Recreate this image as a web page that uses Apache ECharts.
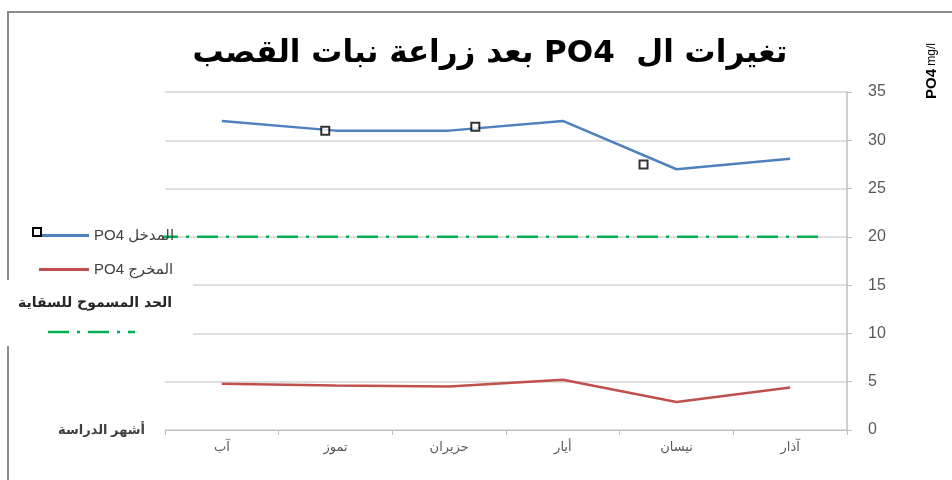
<!DOCTYPE html>
<html>
<head>
<meta charset="utf-8">
<script src="https://cdn.jsdelivr.net/npm/echarts@6/dist/echarts.min.js"></script>
<style>
    html, body { margin: 0; padding: 0; background: #fff; }
    #container { width: 952px; height: 480px; }
</style>
</head>
<body>
<div id="container"></div>
<script>
// months, left to right as in the picture
var months = ['آب', 'تموز', 'حزيران', 'أيار', 'نيسان', 'آذار'];
var inletPO4 = [32, 31, 31, 32, 27, 28.1];
var outletPO4 = [4.8, 4.6, 4.5, 5.2, 2.9, 4.4];
var yTicks = [0, 35, 5];

// irrigation limit line (drawn against a hidden 0..6 axis laid over the categories)
var limitValue = 20;
var limitSpan = [-0.07, 5.76];

// loose square markers seen on the chart
var squareX = [1.41, 2.73, 4.21];
var squareY = [31.0, 31.4, 27.5];

function rtl(s) {
    return '\u202B' + s + '\u202C';
}

var inletName = 'PO4 المدخل';
var outletName = 'PO4 المخرج';

var limitData = [];
for (var i = 0; i < limitSpan.length; i++) {
    limitData.push([limitSpan[i], limitValue]);
}
var squares = [];
for (var j = 0; j < squareX.length; j++) {
    squares.push([squareX[j], squareY[j]]);
}

var myChart = echarts.init(document.getElementById('container'));
var option = {
    animation: false,
    textStyle: {fontFamily: '"Liberation Sans", "DejaVu Sans", sans-serif'},
    title: {
        text: rtl('تغيرات ال  PO4 بعد زراعة نبات القصب'),
        left: 485,
        textAlign: 'center',
        top: 33,
        textStyle: {fontSize: 31, fontWeight: 'bold', color: '#000', fontFamily: '"DejaVu Sans", sans-serif'}
    },
    legend: {
        data: [inletName, outletName],
        orient: 'vertical',
        left: 34,
        top: 223,
        itemWidth: 50,
        itemHeight: 3,
        itemGap: 19,
        itemTextGap: 3,
        icon: 'path://M0,0H50V3H0Z',
        textStyle: {fontSize: 15, color: '#404040'}
    },
    grid: {left: 165, right: 105, top: 92, bottom: 50},
    xAxis: [
        {
            type: 'category',
            data: months,
            boundaryGap: true,
            name: 'أشهر الدراسة',
            nameLocation: 'start',
            nameGap: 20,
            nameTextStyle: {fontSize: 13, fontWeight: 'bold', color: '#404040', padding: [8, 0, 0, 0]},
            axisLine: {lineStyle: {color: '#bfbfbf', width: 1}},
            axisTick: {show: true, interval: 0, length: 5, lineStyle: {color: '#bfbfbf'}},
            axisLabel: {color: '#595959', fontSize: 13, margin: 11}
        },
        {
            type: 'value',
            min: 0,
            max: 6,
            show: false
        }
    ],
    yAxis: {
        type: 'value',
        position: 'right',
        min: yTicks[0],
        max: yTicks[1],
        interval: yTicks[2],
        axisLine: {show: true, onZero: false, lineStyle: {color: '#bfbfbf', width: 1.5}},
        axisTick: {show: true, length: 5, lineStyle: {color: '#bfbfbf'}},
        axisLabel: {color: '#595959', fontSize: 16, margin: 21},
        splitLine: {lineStyle: {color: '#d4d4d4', width: 1.5}}
    },
    series: [
        {
            name: inletName,
            type: 'line',
            data: inletPO4,
            symbol: 'none',
            color: '#4f81bd',
            lineStyle: {width: 2.5, color: '#4f81bd'}
        },
        {
            name: outletName,
            type: 'line',
            data: outletPO4,
            symbol: 'none',
            color: '#c0504d',
            lineStyle: {width: 2.5, color: '#c0504d'}
        },
        {
            name: 'limit',
            type: 'line',
            xAxisIndex: 1,
            data: limitData,
            symbol: 'none',
            clip: false,
            z: 3,
            lineStyle: {width: 2.5, color: '#00b050', type: [21, 8, 3, 8]}
        },
        {
            name: 'squares',
            type: 'scatter',
            xAxisIndex: 1,
            data: squares,
            symbol: 'rect',
            symbolSize: 8,
            z: 5,
            itemStyle: {color: '#fff', borderColor: '#000', borderWidth: 2}
        }
    ],
    graphic: [
        {
            type: 'rect',
            shape: {x: 8, y: 12, width: 960, height: 480},
            style: {fill: null, stroke: '#8c8c8c', lineWidth: 2},
            z: 0
        },
        {
            type: 'rect',
            shape: {x: 33, y: 228, width: 8, height: 8},
            style: {fill: '#fff', stroke: '#000', lineWidth: 2},
            z: 10
        },
        {
            type: 'rect',
            shape: {x: 5, y: 280, width: 188, height: 66},
            style: {fill: '#fff'},
            z: 10
        },
        {
            type: 'text',
            x: 95,
            y: 303,
            style: {
                text: 'الحد المسموح للسقاية',
                fontSize: 14,
                fontWeight: 'bold',
                fill: '#262626',
                align: 'center',
                verticalAlign: 'middle',
                fontFamily: '"DejaVu Sans", sans-serif'
            },
            z: 11
        },
        {
            type: 'line',
            shape: {x1: 48, y1: 332, x2: 135, y2: 332},
            style: {stroke: '#00b050', lineWidth: 2.5, lineDash: [21, 8, 3, 8]},
            z: 11
        },
        {
            type: 'text',
            x: 932,
            y: 71,
            rotation: Math.PI / 2,
            style: {
                text: '{b|PO4} {n|mg/l}',
                rich: {
                    b: {fontSize: 15, fontWeight: 'bold', fill: '#000'},
                    n: {fontSize: 12, fill: '#000'}
                },
                align: 'center',
                verticalAlign: 'middle'
            },
            z: 11
        }
    ]
};

myChart.setOption(option);
</script>
</body>
</html>
